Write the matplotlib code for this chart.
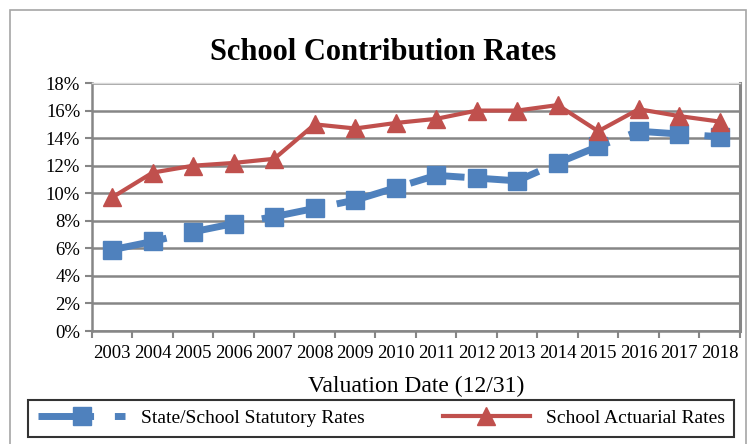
import matplotlib
matplotlib.use('Agg')
import matplotlib.pyplot as plt
from matplotlib.patches import Rectangle
from matplotlib.ticker import FuncFormatter, FixedLocator

# data
years = ['2003', '2004', '2005', '2006', '2007', '2008', '2009', '2010',
         '2011', '2012', '2013', '2014', '2015', '2016', '2017', '2018']
statutory = [5.9, 6.5, 7.2, 7.8, 8.3, 8.9, 9.5, 10.4,
             11.3, 11.1, 10.9, 12.2, 13.4, 14.5, 14.3, 14.1]
actuarial = [9.7, 11.5, 12.0, 12.2, 12.5, 15.0, 14.7, 15.1,
             15.4, 16.0, 16.0, 16.4, 14.5, 16.1, 15.6, 15.2]

plt.rcParams['font.family'] = ['Liberation Serif', 'DejaVu Serif']

fig = plt.figure(figsize=(7.52, 4.44), dpi=100)
ax = fig.add_axes([0.1223, 0.2545, 0.8617, 0.5585])

x = list(range(len(years)))
blue = '#4f81bd'
red = '#c0504d'
grid = '#868686'

ax.plot(x, statutory, color=blue, lw=5, dashes=(8, 3), marker='s', ms=13,
        mec=blue, mfc=blue, label='State/School Statutory Rates', zorder=3)
ax.plot(x, actuarial, color=red, lw=3, marker='^', ms=13,
        mec=red, mfc=red, label='School Actuarial Rates', zorder=4)

ax.set_xlim(-0.5, len(years) - 0.5)
ax.set_ylim(0, 18)
ax.set_yticks(range(0, 19, 2))
ax.yaxis.set_major_formatter(FuncFormatter(lambda v, p: f'{int(v)}%'))
ax.set_xticks(x)
ax.set_xticklabels(years, fontsize=13.5)
ax.xaxis.set_minor_locator(FixedLocator([i - 0.5 for i in range(len(years) + 1)]))
ax.tick_params(axis='x', which='major', length=0, pad=10)
ax.tick_params(axis='x', which='minor', length=5, width=1.5, color=grid, direction='out')
ax.tick_params(axis='y', length=5, width=1.5, color=grid, labelsize=13.5)
ax.grid(axis='y', color=grid, lw=1.8, zorder=0)
ax.set_axisbelow(True)
for side in ['left', 'bottom', 'right', 'top']:
    ax.spines[side].set_color(grid)
    ax.spines[side].set_linewidth(1.8)
ax.spines['top'].set_color('#d9d9d9')
ax.spines['top'].set_linewidth(1)
ax.spines['right'].set_linewidth(2.2)

ax.set_xlabel('Valuation Date (12/31)', fontsize=17, labelpad=10)
fig.text(0.51, 0.882, 'School Contribution Rates', ha='center', va='center',
         fontsize=22, fontweight='bold')

leg = fig.legend(loc='center', bbox_to_anchor=(0.507, 0.058), ncol=2,
                 fontsize=14, frameon=True, fancybox=False, handlelength=4.5,
                 columnspacing=4, borderpad=0.5, handletextpad=0.8)
leg.get_frame().set_edgecolor('black')
leg.get_frame().set_linewidth(1.5)

fig.patches.append(Rectangle((10 / 752, -0.01), 736 / 752, 1 - 10 / 444 + 0.01,
                             transform=fig.transFigure, fill=False,
                             edgecolor='#a6a6a6', lw=1.2))

fig.savefig('out.png', dpi=100)
